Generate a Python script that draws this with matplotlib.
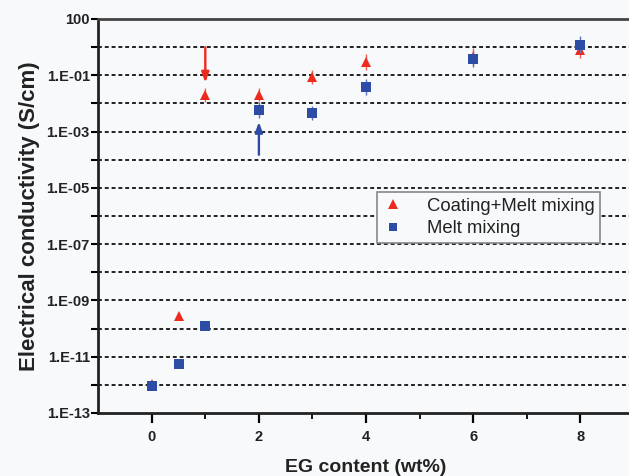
import numpy as np
import matplotlib
matplotlib.use("Agg")
import matplotlib.pyplot as plt
from matplotlib.ticker import FixedLocator, FixedFormatter, NullFormatter
from matplotlib.lines import Line2D

# ---- data ----
eg_red = [0, 0.5, 1, 2, 3, 4, 6, 8]
cond_red = [1.1e-12, 2.8e-10, 0.02, 0.02, 0.09, 0.3, 0.45, 0.8]
err_red_dec = [0.08, 0.0, 0.25, 0.23, 0.25, 0.28, 0.3, 0.3]

eg_blue = [0, 0.5, 1, 2, 3, 4, 6, 8]
cond_blue = [9e-13, 5.5e-12, 1.25e-10, 0.006, 0.0046, 0.038, 0.38, 1.2]
err_blue_dec = [0.0, 0.0, 0.0, 0.28, 0.25, 0.28, 0.28, 0.3]

arrow_red = (1, 1.0, 0.055)      # x, from, to
arrow_blue = (2, 1.5e-4, 0.0022)

series_names = ["Coating+Melt mixing", "Melt mixing"]

xticks = [0, 2, 4, 6, 8]
xminor = [1, 3, 5, 7]
ytick_exps = list(range(-13, 2))
ylabels_map = {1: "100", -1: "1.E-01", -3: "1.E-03", -5: "1.E-05", -7: "1.E-07",
               -9: "1.E-09", -11: "1.E-11", -13: "1.E-13"}
grid_exps = list(range(-12, 1))

red = "#ee2a1c"
blue = "#2c4ca6"
bg = "#f8f9fb"

plt.rcParams['font.family'] = ['Liberation Sans', 'DejaVu Sans']

fig = plt.figure(figsize=(6.29, 4.76), dpi=100, facecolor=bg)
ax = fig.add_axes([0.156, 0.1324, 0.852, 0.8277], facecolor=bg)
ax.set_yscale('log')
ax.set_xlim(-1, 9)
ax.set_ylim(1e-13, 1e1)

for e in grid_exps:
    ax.axhline(10.0 ** e, color="#222222", lw=1.4, ls=(0, (2.0, 1.5)), zorder=1)

def yerr_from_dec(vals, decs):
    v = np.array(vals)
    d = np.array(decs)
    return [v - v / 10 ** d, v * 10 ** d - v]

ax.errorbar(eg_red, cond_red, yerr=yerr_from_dec(cond_red, err_red_dec), fmt='^',
            color=red, ecolor="#f06050", elinewidth=1.0, capsize=3, capthick=1.0,
            markersize=7.5, markeredgewidth=0, zorder=3)
ax.errorbar(eg_blue, cond_blue, yerr=yerr_from_dec(cond_blue, err_blue_dec), fmt='s',
            color=blue, ecolor="#5a70c0", elinewidth=1.0, capsize=3, capthick=1.0,
            markersize=6.5, markeredgewidth=0, zorder=4)

for (ax_x, y0, y1), c in [(arrow_red, red), (arrow_blue, blue)]:
    ax.annotate("", xy=(ax_x, y1), xytext=(ax_x, y0),
                arrowprops=dict(arrowstyle="-|>,head_length=0.6,head_width=0.22",
                                color=c, lw=1.7, shrinkA=0, shrinkB=0), zorder=5)

ax.xaxis.set_major_locator(FixedLocator(xticks))
ax.xaxis.set_minor_locator(FixedLocator(xminor))
ax.yaxis.set_major_locator(FixedLocator([10.0 ** e for e in ytick_exps]))
ax.yaxis.set_major_formatter(FixedFormatter([ylabels_map.get(e, "") for e in ytick_exps]))
ax.yaxis.set_minor_locator(FixedLocator([]))
ax.yaxis.set_minor_formatter(NullFormatter())

ax.tick_params(axis='x', which='major', direction='out', length=7, width=1.6,
               labelsize=10.5, pad=5)
ax.tick_params(axis='x', which='minor', direction='out', length=4, width=1.3)
ax.tick_params(axis='y', which='major', direction='out', length=5, width=1.5,
               labelsize=10.5, pad=1)
for lab in ax.get_xticklabels() + ax.get_yticklabels():
    lab.set_fontweight('bold')
    lab.set_color("#222222")

for s in ['left', 'bottom']:
    ax.spines[s].set_linewidth(2.0)
    ax.spines[s].set_color("#222222")
ax.spines['top'].set_linewidth(2.0)
ax.spines['top'].set_color("#444444")
ax.spines['right'].set_visible(False)

ax.set_xlabel("EG content (wt%)", fontsize=14, fontweight='bold', labelpad=11,
              color="#222222")
ax.set_ylabel("Electrical conductivity (S/cm)", fontsize=16, fontweight='bold',
              labelpad=5, color="#222222")

handles = [Line2D([], [], ls='none', marker='^', color=red, markersize=7, markeredgewidth=0),
           Line2D([], [], ls='none', marker='s', color=blue, markersize=5.5, markeredgewidth=0)]
leg = ax.legend(handles, series_names, loc='upper left', bbox_to_anchor=(0.52, 0.56),
                fontsize=13.3, frameon=True, fancybox=False, edgecolor="#888888",
                facecolor=bg, framealpha=1, handlelength=1.2, handletextpad=1.2,
                borderpad=0.3, labelspacing=0.3, borderaxespad=0)
leg.get_frame().set_linewidth(1.2)
for t in leg.get_texts():
    t.set_color("#222222")

fig.savefig("out.png", dpi=100, facecolor=bg)
